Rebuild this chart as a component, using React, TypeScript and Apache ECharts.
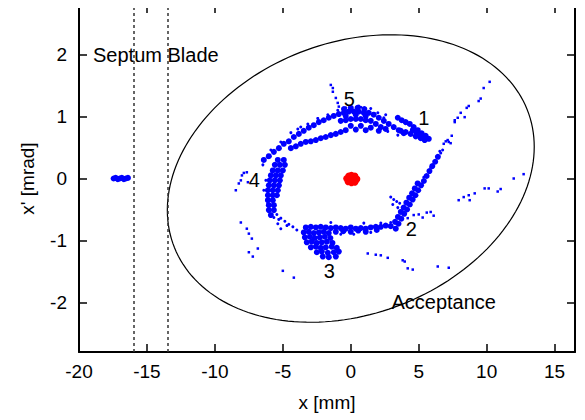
import React, { useEffect, useRef } from "react";
import * as echarts from "echarts";

const FONT = '"Liberation Sans", Arial, Helvetica, sans-serif';
const BLUE = "#0000ff";
const RED = "#ff0000";

// Axis ranges
const X_MIN = -20;
const X_MAX = 16.5;
const X_STEP = 5;
const Y_MIN = -2.8;
const Y_MAX = 2.8;

// Septum blade edges [mm]
const septumEdges = [-16, -13.5];

// Acceptance ellipse: half-width in x [mm], half-height in x' [mrad], phase tilt [rad]
const acceptance = [13.5, 2.32, 0.222];

// Extracted beam sitting behind the septum
const septumBeam: [number, number][] = [
  [-17.45, 0], [-17.3, 0.01], [-17.15, -0.01], [-17.0, 0], [-16.85, 0.01], [-16.7, -0.01],
  [-16.55, 0], [-16.4, 0.01],
];

// Beam core at the centre
const coreBeam: [number, number][] = [
  [-0.3, 0], [-0.15, 0.04], [0.05, 0.05], [0.3, 0.04], [0.45, -0.01], [0.3, -0.06],
  [0.05, -0.07], [-0.2, -0.05], [0.1, -0.01],
];

// Island 1 (hook)
const island1: [number, number][] = [
  [3.46, 0.98], [3.75, 0.94], [4.04, 0.91], [4.34, 0.88], [4.63, 0.83], [4.93, 0.78], [5.22, 0.73],
  [5.51, 0.69], [5.74, 0.64], [4.04, 0.75], [4.41, 0.72], [4.78, 0.68], [5.15, 0.65], [5.44, 0.62],
  [4.56, 0.78], [5.0, 0.71], [5.29, 0.67], [3.68, 0.77], [4.85, 0.74],
];

// Island 2 (rising band)
const island2: [number, number][] = [
  [3.31, -0.81], [3.51, -0.73], [3.72, -0.65], [3.93, -0.57], [4.14, -0.5], [4.34, -0.42],
  [4.55, -0.34], [4.76, -0.27], [4.96, -0.19], [5.17, -0.11], [5.38, -0.04], [5.58, 0.04],
  [5.79, 0.12], [6.0, 0.2], [6.21, 0.27], [6.41, 0.35],
  [3.26, -0.7], [3.47, -0.62], [3.68, -0.54], [3.89, -0.47], [4.09, -0.39], [4.3, -0.31],
  [4.51, -0.24], [4.71, -0.16], [4.92, -0.08],
];

// Island 3 (blob) and the band running to island 2
const island3: [number, number][] = [
  [-3.31, -0.79], [-2.94, -0.78], [-2.57, -0.79], [-2.21, -0.78], [-1.84, -0.79], [-1.47, -0.8],
  [-3.46, -0.87], [-3.09, -0.86], [-2.72, -0.88], [-2.35, -0.87], [-1.99, -0.86], [-1.62, -0.88],
  [-3.38, -0.95], [-3.01, -0.94], [-2.65, -0.96], [-2.28, -0.95], [-1.91, -0.94], [-1.5, -0.96],
  [-3.24, -1.03], [-2.87, -1.02], [-2.5, -1.04], [-2.13, -1.03], [-1.76, -1.02], [-1.35, -1.04],
  [-2.94, -1.11], [-2.57, -1.1], [-2.21, -1.12], [-1.84, -1.11], [-1.4, -1.1], [-1.03, -1.12],
  [-2.5, -1.19], [-2.13, -1.18], [-1.69, -1.2], [-1.25, -1.19], [-0.88, -1.18],
  [-2.06, -1.26], [-1.62, -1.27], [-1.1, -1.26],
  [-1.1, -0.79], [-0.74, -0.8], [-0.37, -0.81], [0, -0.79], [0.37, -0.81], [0.74, -0.8],
  [1.1, -0.81], [1.47, -0.79], [1.84, -0.78], [2.21, -0.78], [2.57, -0.76], [2.94, -0.77],
  [-1.1, -0.86], [0, -0.86], [1.1, -0.86], [1.91, -0.83], [-0.55, -0.85], [0.55, -0.84],
];

// Island 4 (left band)
const island4: [number, number][] = [
  [-5.37, 0.3], [-4.93, 0.3], [-5.59, 0.22], [-5.22, 0.22], [-4.85, 0.22],
  [-5.74, 0.13], [-5.37, 0.13], [-5.0, 0.13], [-5.88, 0.05], [-5.51, 0.05], [-5.15, 0.05],
  [-5.96, -0.03], [-5.59, -0.03], [-5.22, -0.03], [-6.03, -0.11], [-5.66, -0.11], [-5.29, -0.11],
  [-6.1, -0.19], [-5.74, -0.19], [-5.37, -0.19], [-6.1, -0.27], [-5.74, -0.27], [-5.44, -0.27],
  [-6.1, -0.35], [-5.74, -0.35], [-6.03, -0.43], [-5.66, -0.43], [-6.03, -0.51], [-5.66, -0.51],
  [-5.88, -0.59],
];

// Island 5 (upper arc, outer and inner strands)
const island5: [number, number][] = [
  [-6.4, 0.3], [-6.03, 0.36], [-5.66, 0.43], [-5.29, 0.49], [-4.93, 0.56], [-4.56, 0.6],
  [-4.19, 0.67], [-3.82, 0.72], [-3.46, 0.77], [-3.09, 0.82], [-2.72, 0.86], [-2.35, 0.91],
  [-1.99, 0.94], [-1.62, 0.98], [-1.25, 1.01], [-0.88, 1.04], [-0.51, 1.06], [-0.15, 1.08],
  [0.22, 1.08], [0.59, 1.08], [0.96, 1.06], [1.32, 1.06], [1.69, 1.03], [2.06, 0.98],
  [2.43, 0.93], [2.79, 0.88], [3.16, 0.83], [3.53, 0.78], [3.9, 0.73],
  [-0.74, 0.93], [-0.37, 0.94], [0, 0.96], [0.37, 0.96], [0.74, 0.96], [1.1, 0.94], [1.47, 0.93],
  [1.84, 0.88], [2.21, 0.83], [2.57, 0.8], [0, 0.85], [0.74, 0.85], [1.47, 0.82], [2.06, 0.77],
  [-0.37, 1.01], [0.37, 1.03], [1.1, 1.01],
  [0.37, 0.79], [1.1, 0.78], [-0.5, 1.12], [0.0, 1.14], [0.5, 1.14], [1.0, 1.12],
  [-4.41, 0.49], [-4.04, 0.52], [-3.68, 0.56], [-3.31, 0.59], [-2.94, 0.6], [-2.57, 0.62],
  [-2.21, 0.65], [-1.84, 0.67], [-1.47, 0.7], [-1.1, 0.72], [-0.74, 0.75], [-0.37, 0.78],
];

// Looser particles along the edges of the islands
const fringe: [number, number][] = [
  [-5.44, -0.58], [-5.15, -0.64], [-4.85, -0.69], [-4.56, -0.74], [-4.26, -0.78], [-3.97, -0.83],
  [-5.3, -0.66], [-4.7, -0.76],
  [-3.68, 0.83], [-4.41, 0.74], [-5.15, 0.59], [-5.88, 0.46], [-6.47, 0.22], [0.59, 1.17],
  [1.47, 1.13], [-0.37, 1.14], [2.57, 1.03],
  [2.94, -0.3], [3.16, -0.34], [3.38, -0.37], [3.6, -0.4], [3.09, -0.42], [3.46, -0.47],
  [6.62, 0.41], [6.76, 0.46], [6.55, 0.44],
  [-6.1, 0.34], [-3.9, 0.8], [-3.16, 0.88], [-2.43, 0.97], [-1.69, 1.03],
  [-6.25, -0.03], [-6.4, -0.19], [-6.1, -0.4], [-5.37, -0.73], [-5.15, -0.81], [-5.66, -0.63],
  [-0.74, -0.9], [0.22, -0.9], [1.47, -0.87], [2.21, -0.72], [2.94, -0.71], [0.96, -0.72], [-1.47, -0.71],
  [4.93, -0.19], [4.41, -0.43], [5.37, 0.02], [5.88, 0.18],
  [-0.96, 1.1], [0.74, 1.15], [1.99, 1.06], [2.43, 0.98], [2.72, 0.76], [3.46, 0.7],
];

// Stray particles outside the islands
const halo: [number, number][] = [
  [-1.47, 1.51], [-1.32, 1.46], [-1.32, 1.4], [-1.1, 1.3], [-0.96, 1.22], [-0.88, 1.16],
  [-8.46, -0.19], [-8.24, -0.08], [-8.09, -0.03], [-7.87, 0.09], [-7.65, 0.1], [-8.01, 0.05], [-7.57, -0.06],
  [-8.09, -0.71], [-7.65, -0.81], [-7.5, -0.89], [-7.28, -0.97], [-7.5, -1.19], [-7.21, -1.26],
  [-6.84, -1.13], [-5.0, -1.49], [-4.19, -1.6],
  [1.25, -1.21], [1.84, -1.23], [2.21, -1.24], [2.72, -1.28], [3.82, -1.32], [3.97, -1.34],
  [4.19, -1.45], [4.56, -1.47], [6.4, -1.42], [7.21, -1.44],
  [4.63, -0.59], [5.0, -0.58], [5.29, -0.63], [5.59, -0.55], [5.88, -0.54], [6.1, -0.6], [4.19, -0.64],
  [10.22, 1.56], [9.78, 1.46], [9.56, 1.29], [9.41, 1.25], [8.68, 1.17], [8.53, 1.14], [8.09, 1.06],
  [8.38, 0.99], [7.87, 0.98], [7.65, 0.94], [7.65, 0.91],
  [7.43, 0.69], [7.13, 0.62], [6.99, 0.6], [7.21, 0.59], [7.35, 0.57], [6.84, 0.56],
  [12.72, 0.07], [11.99, 0.0], [11.03, -0.17], [10.81, -0.21], [10.15, -0.16], [9.85, -0.16],
  [9.12, -0.24], [8.68, -0.27], [8.31, -0.3], [7.94, -0.35], [8.75, -0.35],
];

// Island numbers
const islandNames = ["1", "2", "3", "4", "5"];
const islandNameX = [5.37, 4.45, -1.58, -7.1, -0.11];
const islandNameY = [0.98, -0.81, -1.49, -0.03, 1.29];

// Annotations
const noteTexts = ["Septum Blade", "Acceptance"];
const noteX = [-18.97, 6.84];
const noteY = [2.0, -1.99];
const noteAlign = ["left", "center"];

const tickTextStyle = { fontFamily: FONT, fontSize: 19, color: "#000" };
const noteTextStyle = {
  fontFamily: FONT,
  fontSize: 20,
  color: "#000",
  textBorderWidth: 0,
  textShadowBlur: 0,
  opacity: 1,
};

function dotSeries(data: [number, number][], color: string, size: number, symbol = "circle") {
  return {
    type: "scatter",
    data,
    symbol,
    symbolSize: size,
    itemStyle: { color, opacity: 1 },
    silent: true,
    animation: false,
  };
}

export default function App() {
  const ref = useRef<HTMLDivElement>(null);

  useEffect(() => {
    if (!ref.current) return;
    const chart = echarts.init(ref.current, undefined, { renderer: "svg" });

    const axisLine = { onZero: false, lineStyle: { color: "#000", width: 2 } };
    const axisTick = { inside: true, length: 8, lineStyle: { color: "#000", width: 1.5 } };

    const labelData = [
      ...islandNames.map((t, i) => ({
        value: [islandNameX[i], islandNameY[i]],
        label: { formatter: t, align: "center" },
      })),
      ...noteTexts.map((t, i) => ({
        value: [noteX[i], noteY[i]],
        label: { formatter: t, align: noteAlign[i] },
      })),
    ];

    chart.setOption({
      animation: false,
      grid: { left: 79, right: 10, top: 5, bottom: 68, containLabel: false },
      xAxis: [
        {
          type: "value",
          min: X_MIN,
          max: X_MAX,
          interval: X_STEP,
          position: "bottom",
          axisLine,
          axisTick,
          splitLine: { show: false },
          axisLabel: { ...tickTextStyle, margin: 10, showMaxLabel: false },
          name: "x [mm]",
          nameLocation: "middle",
          nameGap: 41,
          nameTextStyle: tickTextStyle,
        },
        {
          type: "value",
          min: X_MIN,
          max: X_MAX,
          interval: X_STEP,
          position: "top",
          axisLine,
          axisTick,
          splitLine: { show: false },
          axisLabel: { show: false },
        },
      ],
      yAxis: [
        {
          type: "value",
          min: Y_MIN,
          max: Y_MAX,
          splitNumber: 5,
          position: "left",
          axisLine,
          axisTick,
          splitLine: { show: false },
          axisLabel: { ...tickTextStyle, margin: 12, showMinLabel: false, showMaxLabel: false },
          name: "x' [mrad]",
          nameLocation: "middle",
          nameGap: 42,
          nameTextStyle: tickTextStyle,
        },
        {
          type: "value",
          min: Y_MIN,
          max: Y_MAX,
          splitNumber: 5,
          position: "right",
          axisLine,
          axisTick,
          splitLine: { show: false },
          axisLabel: { show: false },
        },
      ],
      series: [
        {
          type: "custom",
          data: [acceptance],
          silent: true,
          renderItem: (params: any, api: any) => {
            const a = api.value(0);
            const b = api.value(1);
            const tilt = api.value(2);
            const pts: number[][] = [];
            for (let i = 0; i <= 180; i++) {
              const t = (i / 180) * Math.PI * 2;
              pts.push(api.coord([a * Math.cos(t), b * Math.sin(t + tilt)]));
            }
            return {
              type: "polygon",
              shape: { points: pts },
              style: { fill: "none", stroke: "#000", lineWidth: 1.2 },
            };
          },
        },
        dotSeries(septumBeam, BLUE, 6),
        dotSeries(island1, BLUE, 6),
        dotSeries(island2, BLUE, 6),
        dotSeries(island3, BLUE, 6),
        dotSeries(island4, BLUE, 6),
        dotSeries(island5, BLUE, 6),
        dotSeries(fringe, BLUE, 3),
        dotSeries(halo, BLUE, 2.5, "rect"),
        dotSeries(coreBeam, RED, 7),
        {
          type: "scatter",
          data: labelData,
          symbolSize: 0,
          silent: true,
          itemStyle: { color: "#000", opacity: 1 },
          label: {
            show: true,
            position: "inside",
            verticalAlign: "middle",
            ...noteTextStyle,
          },
          markLine: {
            silent: true,
            symbol: ["none", "none"],
            label: { show: false },
            lineStyle: { type: [3, 3], color: "#333", width: 1.5 },
            data: septumEdges.map((x) => ({ xAxis: x })),
            animation: false,
          },
        },
      ],
    });

    return () => chart.dispose();
  }, []);

  return <div ref={ref} style={{ width: 585, height: 420, marginLeft: -8, marginTop: -8 }} />;
}
